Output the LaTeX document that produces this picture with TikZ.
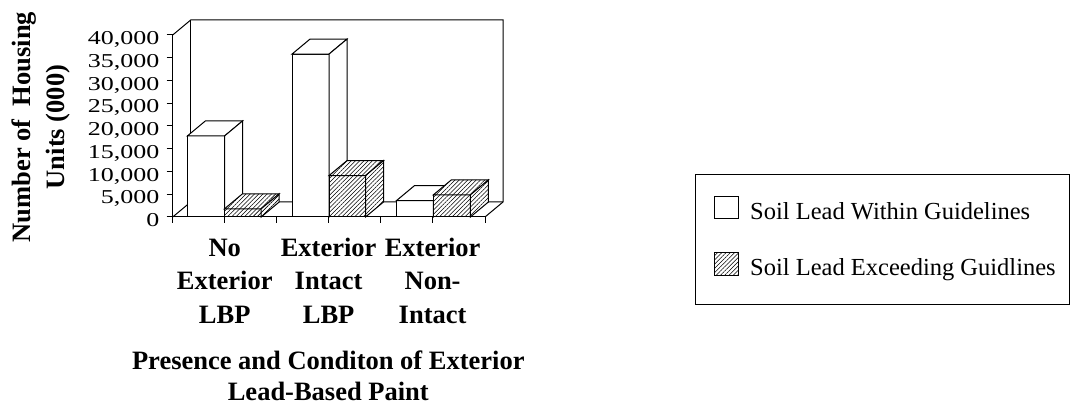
\documentclass[tikz,border=0pt]{standalone}
\usepackage{fontspec}
\setmainfont{Liberation Serif}
\usepackage{graphicx}
\usetikzlibrary{patterns.meta}

% one bar as a box: style, left x, right x, top y (floor at y=217, depth 18/15)
\newcommand\cuboid[4]{%
  \path[#1] (#2,217) rectangle (#3,#4);
  \path[#1] (#2,#4) -- ++(18,-15) -- ++({#3-#2},0) -- (#3,#4) -- cycle;
  \path[#1] (#3,#4) -- ++(18,-15) -- ({#3+18},202) -- (#3,217) -- cycle;
}

\begin{document}
\begin{tikzpicture}[x=1pt,y=-1pt,
  frame/.style={draw=black, line width=1pt, line join=miter},
  plainbar/.style={frame, fill=white},
  hatchbar/.style={frame, preaction={fill=white},
    pattern={Lines[angle=45,distance=3pt,line width=0.55pt]}},
  ticklabel/.style={anchor=base east, inner sep=0pt,
    font=\fontsize{26}{26}\selectfont},
  boldtext/.style={inner sep=0pt, font=\fontsize{26.5}{33.3}\selectfont\bfseries},
  legendtext/.style={anchor=base west, inner sep=0pt,
    font=\fontsize{24.5}{28}\selectfont}
]
\useasboundingbox (0,0) rectangle (1072,406);

% back wall and floor
\draw[frame] (172.7,35) -- (190.7,20) -- (503,20) -- (503,202) -- (485,217);
\draw[frame] (190.7,20) -- (190.7,202);
\draw[frame] (172.7,217) -- (190.7,202) -- (503,202);

% bars, left to right
\cuboid{plainbar}{187.3}{224.5}{136.0}
\cuboid{hatchbar}{224.5}{261.2}{208.8}
\cuboid{plainbar}{292.0}{329.0}{54.1}
\cuboid{hatchbar}{329.0}{365.5}{175.6}
\cuboid{plainbar}{396.5}{433.3}{200.6}
\cuboid{hatchbar}{433.3}{470.4}{194.9}

% value axis with ticks and labels
\draw[frame] (172.7,35) -- (172.7,217) -- (485,217);
\foreach \i/\t in {0/0,1/{5,000},2/{10,000},3/{15,000},4/{20,000},
                   5/{25,000},6/{30,000},7/{35,000},8/{40,000}}{
  \draw[frame] (166.7,{217-22.75*\i}) -- (172.7,{217-22.75*\i});
  \node[ticklabel] (tick\i) at (159.5,{226.7-22.75*\i}) {\scalebox{1}[0.756]{\t}};
}
\foreach \i in {0,...,6}{
  \draw[frame] ({172.7+52.05*\i},217) -- ({172.7+52.05*\i},223);
}

% axis titles
\node[boldtext, rotate=90, anchor=base, font=\fontsize{26.5}{34}\selectfont\bfseries]
  (ytitle) at (30.5,127)
  {\begin{tabular}[t]{@{}c@{}}Number of\ \ Housing\\Units (000)\end{tabular}};

\node[boldtext, anchor=base] (cat1) at (224.7,256.7)
  {\begin{tabular}[t]{@{}c@{}}No\\Exterior\\LBP\end{tabular}};
\node[boldtext, anchor=base] (cat2) at (328.6,256.7)
  {\begin{tabular}[t]{@{}c@{}}Exterior\\Intact\\LBP\end{tabular}};
\node[boldtext, anchor=base] (cat3) at (432.6,256.7)
  {\begin{tabular}[t]{@{}c@{}}Exterior\\Non-\\Intact\end{tabular}};

\node[boldtext, anchor=base, font=\fontsize{26.5}{31}\selectfont\bfseries]
  (xtitle) at (328.3,370)
  {\begin{tabular}[t]{@{}c@{}}Presence and Conditon of Exterior\\Lead-Based Paint\end{tabular}};

% legend
\draw[line width=0.8pt] (695,174) rectangle (1069,304);
\draw[line width=0.8pt, fill=white] (714.3,196) rectangle (738.3,218.3);
\draw[line width=0.8pt, preaction={fill=white},
  pattern={Lines[angle=45,distance=3pt,line width=0.55pt]}]
  (714.3,252.7) rectangle (738.3,275);
\node[legendtext] (leg1) at (750,219.3) {Soil Lead Within Guidelines};
\node[legendtext] (leg2) at (750,275.7) {Soil Lead Exceeding Guidlines};
\end{tikzpicture}
\end{document}
